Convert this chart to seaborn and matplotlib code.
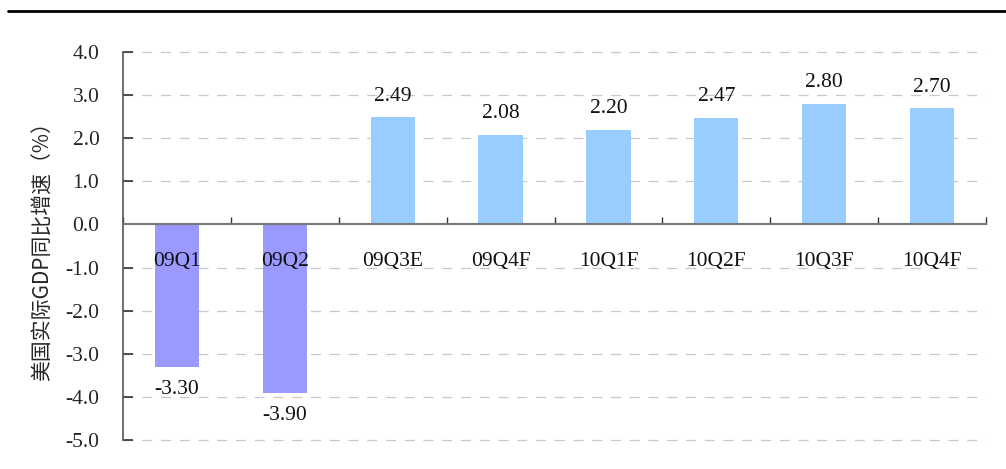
import matplotlib
matplotlib.use("Agg")
import matplotlib.pyplot as plt
from matplotlib.lines import Line2D
import seaborn as sns
import numpy as np

categories = ["09Q1", "09Q2", "09Q3E", "09Q4F", "10Q1F", "10Q2F", "10Q3F", "10Q4F"]
values = [-3.30, -3.90, 2.49, 2.08, 2.20, 2.47, 2.80, 2.70]
value_labels = ["-3.30", "-3.90", "2.49", "2.08", "2.20", "2.47", "2.80", "2.70"]
y_ticks = [4.0, 3.0, 2.0, 1.0, 0.0, -1.0, -2.0, -3.0, -4.0, -5.0]
y_label = "美国实际GDP同比增速（%）"

NEG_COLOR = "#9999FF"
POS_COLOR = "#99CCFF"

sns.set_style("white")
plt.rcParams['font.family'] = ['Liberation Serif', 'Noto Sans CJK SC', 'DejaVu Sans']

fig = plt.figure(figsize=(10.06, 4.69), dpi=100)
ax = fig.add_axes([123/1006, 1 - 440/469, (986-123)/1006, (440-52)/469])

palette = {c: (NEG_COLOR if v < 0 else POS_COLOR) for c, v in zip(categories, values)}
sns.barplot(x=categories, y=values, hue=categories, palette=palette, legend=False,
            width=0.41, ax=ax, saturation=1, edgecolor="none", linewidth=0)

ax.set_xlim(-0.5, len(categories) - 0.5)
ax.set_ylim(-5.0, 4.0)
ax.set_yticks(y_ticks)
ax.set_yticklabels([f"{t:.1f}" for t in y_ticks], fontsize=15.5)
ax.tick_params(axis='y', left=True, direction='in', length=7, width=1.2, color="#333333", pad=17)

# grid
for t in y_ticks:
    if t != 0:
        ax.axhline(t, linestyle=(0, (8, 7)), color="#c8c8c8", linewidth=0.9, zorder=0, clip_on=False)

# spines
for s in ["top", "right"]:
    ax.spines[s].set_visible(False)
ax.spines["left"].set_color("#555555")
ax.spines["left"].set_linewidth(1.2)
ax.spines["bottom"].set_position(("data", 0))
ax.spines["bottom"].set_color("#777777")
ax.spines["bottom"].set_linewidth(1.5)
ax.spines["bottom"].set_zorder(5)

# x ticks at category boundaries, labels drawn below the zero line
ax.set_xticks(np.arange(len(categories) + 1) - 0.5)
ax.set_xticklabels([])
ax.tick_params(axis='x', bottom=True, direction='in', length=5, width=1, color="#333333")
for i, c in enumerate(categories):
    ax.text(i, -0.87, c, ha="center", va="center", fontsize=15.5, color="#111111")

# value labels
for i, (v, lab) in enumerate(zip(values, value_labels)):
    off = 21 if v >= 0 else -23
    ax.annotate(lab, (i, v), xytext=(0, off), textcoords="offset pixels",
                ha="center", va="center", fontsize=15.5, color="#111111")

ax.set_xlabel("")
ax.set_ylabel(y_label, fontsize=15, family=['Noto Sans CJK SC', 'DejaVu Sans'], labelpad=8)

# top rule
fig.add_artist(Line2D([8/1006, 1.0], [1 - 11/469, 1 - 11/469], color="black", linewidth=2,
                      transform=fig.transFigure))

fig.savefig("out.png", dpi=100)
